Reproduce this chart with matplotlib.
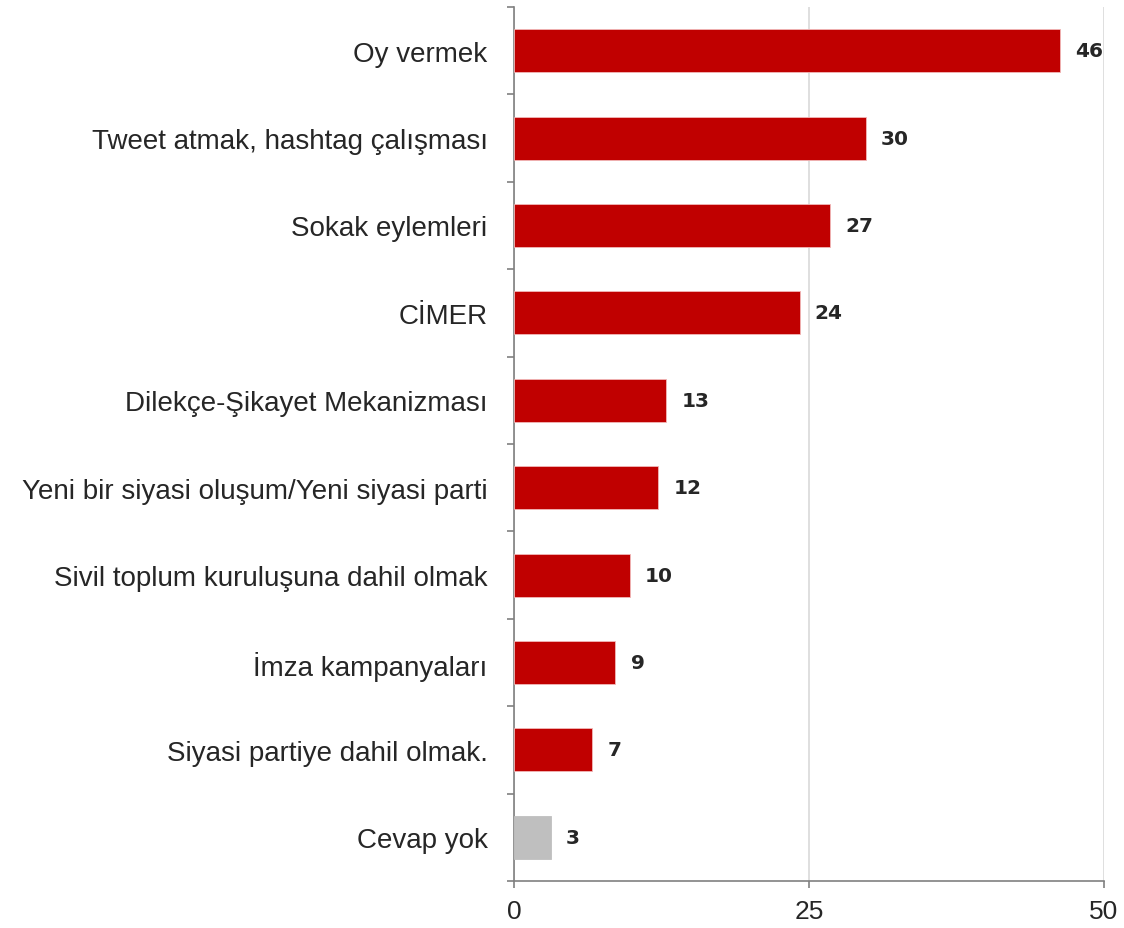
import matplotlib
matplotlib.use("Agg")
import matplotlib.pyplot as plt
import numpy as np

categories = ["Oy vermek", "Tweet atmak, hashtag çalışması", "Sokak eylemleri", "CİMER",
              "Dilekçe-Şikayet Mekanizması", "Yeni bir siyasi oluşum/Yeni siyasi parti",
              "Sivil toplum kuruluşuna dahil olmak", "İmza kampanyaları",
              "Siyasi partiye dahil olmak.", "Cevap yok"]
values = [46.3, 29.8, 26.8, 24.2, 12.9, 12.2, 9.8, 8.6, 6.6, 3.1]
labels = ["46", "30", "27", "24", "13", "12", "10", "9", "7", "3"]
xticks = [0, 25, 50]

red = "#C00000"
grey = "#BFBFBF"
colors = [red] * (len(values) - 1) + [grey]
edges = ["#F2B8B8"] * (len(values) - 1) + [grey]

plt.rcParams['font.family'] = ['Liberation Sans', 'DejaVu Sans']

fig = plt.figure(figsize=(11.24, 9.29), dpi=100)
ax = fig.add_axes([514/1124, 1 - 882/929, (1104-514)/1124, (882-8)/929])

y = np.arange(len(categories))
ax.barh(y, values, height=0.49, color=colors, edgecolor=edges, linewidth=0.6, zorder=3)

for yi, v, lab in zip(y, values, labels):
    ax.annotate(lab, (v, yi), xytext=(11, 0), textcoords="offset points",
                va="center", ha="left", fontsize=14.5, fontweight="heavy",
                family=["DejaVu Sans"], color="#262626")

ax.set_xlim(0, 50)
ax.set_ylim(len(categories) - 0.5, -0.5)
ax.set_xticks(xticks)
ax.set_xticklabels([str(t) for t in xticks], fontsize=19, color="#262626")
ax.set_yticks(y)
ax.set_yticklabels(categories, fontsize=20, color="#262626")
ax.set_yticks(np.arange(-0.5, len(categories) + 0.5, 1), minor=True)
ax.tick_params(axis="y", which="major", length=0, pad=19)
ax.tick_params(axis="y", which="minor", length=5, width=1.2, color="#808080", direction="out")
ax.tick_params(axis="x", which="major", length=5, width=1.2, color="#808080", pad=8)

ax.grid(axis="x", color="#D9D9D9", linewidth=1.2, zorder=0)
for s in ["top", "right"]:
    ax.spines[s].set_visible(False)
for s in ["left", "bottom"]:
    ax.spines[s].set_color("#808080")
    ax.spines[s].set_linewidth(1.2)

fig.savefig("out.png", dpi=100)
